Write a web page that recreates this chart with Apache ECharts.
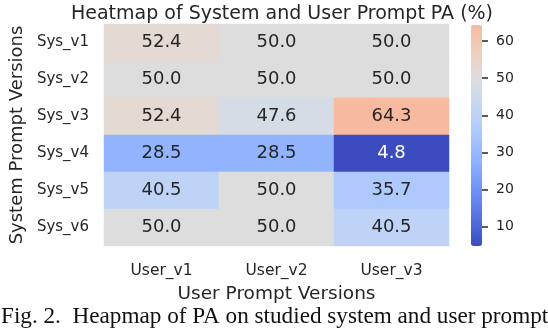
<!DOCTYPE html>
<html>
<head>
<meta charset="utf-8">
<script src="https://cdn.jsdelivr.net/npm/echarts@6/dist/echarts.min.js"></script>
<style>
  html, body { margin: 0; padding: 0; background: #fff; }
  #chart { width: 548px; height: 334px; }
</style>
</head>
<body>
<div id="chart"></div>
<script>
// data
var userVersions = ['User_v1', 'User_v2', 'User_v3'];
var sysVersions = ['Sys_v1', 'Sys_v2', 'Sys_v3', 'Sys_v4', 'Sys_v5', 'Sys_v6'];
var paValues = [
  [52.4, 50.0, 50.0],
  [50.0, 50.0, 50.0],
  [52.4, 47.6, 64.3],
  [28.5, 28.5, 4.8],
  [40.5, 50.0, 35.7],
  [50.0, 50.0, 40.5]
];
var colorbarTicks = [10, 20, 30, 40, 50, 60];
var cmapCenter = 50;

// matplotlib "coolwarm" (Moreland), 33 anchors
var coolwarm = [
  [59,76,192],[68,90,204],[77,104,215],[87,117,225],[98,130,234],[108,142,241],
  [119,154,247],[130,165,251],[141,176,254],[152,185,255],[163,194,255],[174,201,253],
  [184,208,249],[194,213,244],[204,217,238],[213,219,230],[221,221,221],[229,216,209],
  [236,211,197],[241,204,185],[245,196,173],[247,187,160],[247,177,148],[247,166,135],
  [244,154,123],[241,141,111],[236,127,99],[229,112,88],[222,96,77],[213,80,66],
  [203,62,56],[192,40,47],[180,4,38]
];
function cmap(t) {
  t = Math.max(0, Math.min(1, t));
  var p = t * (coolwarm.length - 1);
  var i = Math.min(Math.floor(p), coolwarm.length - 2);
  var f = p - i;
  var a = coolwarm[i], b = coolwarm[i + 1];
  return [0, 1, 2].map(function (k) { return Math.round(a[k] + (b[k] - a[k]) * f); });
}

var flat = [].concat.apply([], paValues);
var vmin = Math.min.apply(null, flat);
var vmax = Math.max.apply(null, flat);
var vrange = Math.max(vmax - cmapCenter, cmapCenter - vmin);
function tOf(v) { return 0.5 + (v - cmapCenter) / (2 * vrange); }

var rampColors = [];
for (var i = 0; i <= 48; i++) {
  var c = cmap(tOf(vmin + (vmax - vmin) * i / 48));
  rampColors.push('rgb(' + c.join(',') + ')');
}

function textColorFor(v) {
  var c = cmap(tOf(v)).map(function (x) {
    x = x / 255;
    return x <= 0.03928 ? x / 12.92 : Math.pow((x + 0.055) / 1.055, 2.4);
  });
  var lum = 0.2126 * c[0] + 0.7152 * c[1] + 0.0722 * c[2];
  return lum > 0.408 ? '#262626' : '#ffffff';
}

var cells = [];
paValues.forEach(function (row, y) {
  row.forEach(function (v, x) {
    cells.push({ value: [x, y, v], label: { color: textColorFor(v) } });
  });
});

var font = 'DejaVu Sans';
var ink = '#262626';

var chart = echarts.init(document.getElementById('chart'));
chart.setOption({
  animation: false,
  backgroundColor: '#ffffff',
  textStyle: { fontFamily: font },
  title: {
    text: 'Heatmap of System and User Prompt PA (%)',
    left: 277, top: 0, textAlign: 'center',
    textStyle: { fontFamily: font, fontSize: 19, fontWeight: 'normal', color: ink }
  },
  grid: [
    { left: 104, top: 24, width: 345, height: 222 },
    { left: 471, top: 25, width: 11, height: 221 }
  ],
  xAxis: [
    {
      type: 'category', data: userVersions, gridIndex: 0,
      axisLine: { show: false }, axisTick: { show: false }, splitArea: { show: false },
      axisLabel: { fontSize: 15.5, color: ink, margin: 17 },
      name: 'User Prompt Versions', nameLocation: 'middle', nameGap: 39,
      nameTextStyle: { fontSize: 18.5, color: ink }
    },
    { type: 'category', data: [''], gridIndex: 1, show: false }
  ],
  yAxis: [
    {
      type: 'category', data: sysVersions, gridIndex: 0, inverse: true,
      axisLine: { show: false }, axisTick: { show: false }, splitArea: { show: false },
      axisLabel: { fontSize: 15, color: ink, margin: 15 },
      name: 'System Prompt Versions', nameLocation: 'middle', nameGap: 74, nameRotate: 90,
      nameTextStyle: { fontSize: 18, color: ink }
    },
    {
      type: 'value', gridIndex: 1, position: 'right', min: vmin, max: vmax,
      axisLine: { show: false }, splitLine: { show: false },
      axisTick: { show: true, customValues: colorbarTicks, length: 6, lineStyle: { color: ink, width: 1.5 } },
      axisLabel: { customValues: colorbarTicks, fontSize: 14, color: ink, margin: 14 }
    }
  ],
  visualMap: {
    type: 'continuous', seriesIndex: 0, min: vmin, max: vmax,
    calculable: false, text: null, showLabel: false,
    left: 471, top: 25, itemWidth: 11, itemHeight: 221, padding: 0,
    inRange: { color: rampColors }
  },
  graphic: [
    {
      type: 'text', left: 1, top: 305,
      style: {
        text: 'Fig. 2.  Heapmap of PA on studied system and user prompts',
        fontFamily: 'Liberation Serif', fontSize: 23.2, fill: '#111'
      }
    }
  ],
  series: [
    {
      type: 'heatmap', xAxisIndex: 0, yAxisIndex: 0,
      data: cells,
      label: {
        show: true, fontSize: 18, fontFamily: font,
        formatter: function (p) { return p.value[2].toFixed(1); }
      },
      itemStyle: { borderWidth: 0 },
      emphasis: { disabled: true }
    }
  ]
});
</script>
</body>
</html>
